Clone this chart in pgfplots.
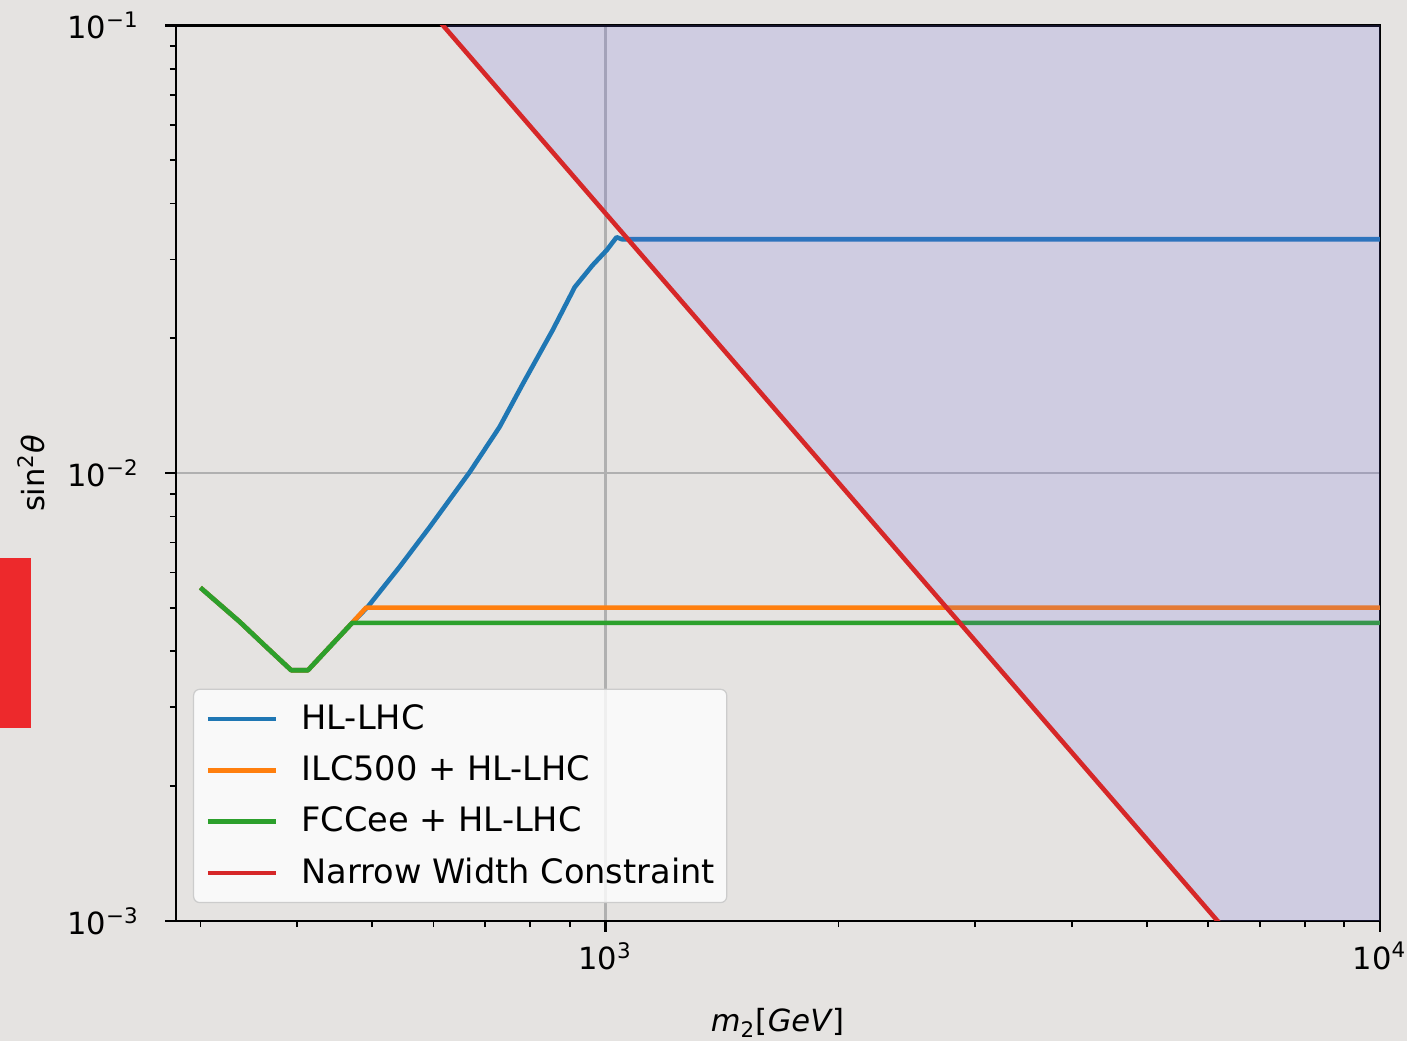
\documentclass[border=0pt]{standalone}
\usepackage{fontspec}
\setmainfont{DejaVu Sans}
\usepackage{pgfplots}
\pgfplotsset{compat=1.18}
\definecolor{bgc}{RGB}{229,227,225}
\definecolor{c0}{RGB}{31,119,180}
\definecolor{c1}{RGB}{255,127,14}
\definecolor{c2}{RGB}{44,160,44}
\definecolor{c3}{RGB}{214,39,40}
\definecolor{fillc}{RGB}{110,100,230}
\definecolor{gridc}{RGB}{176,176,176}
\definecolor{tagred}{RGB}{237,41,44}
\definecolor{legedge}{RGB}{204,204,204}
\begin{document}
\begin{tikzpicture}
\useasboundingbox (-57.6pt,-39.4pt) rectangle (402.9pt,301.4pt);
\fill[bgc] (-57.6pt,-39.4pt) rectangle (402.9pt,301.4pt);
\fill[tagred] (-57.6pt,63.1pt) rectangle (-47.45pt,118.8pt);
\begin{axis}[
  at={(0pt,0pt)}, anchor=south west,
  scale only axis, width=394pt, height=293.1pt,
  xmode=log, ymode=log,
  xmin=279, xmax=10000, ymin=0.001, ymax=0.1,
  xtick={1000,10000},
  xticklabels={10\textsuperscript{3},10\textsuperscript{4}},
  ytick={0.001,0.01,0.1},
  yticklabels={10\textsuperscript{−3},10\textsuperscript{−2},10\textsuperscript{−1}},
  yticklabel style={xshift=-5pt},
  minor xtick={300,400,500,600,700,800,900,2000,3000,4000,5000,6000,7000,8000,9000},
  minor ytick={0.002,0.003,0.004,0.005,0.006,0.007,0.008,0.009,0.02,0.03,0.04,0.05,0.06,0.07,0.08,0.09},
  tick align=outside, tick pos=left,
  major tick length=3.5pt, minor tick length=2pt,
  every major tick/.append style={black, line width=0.8pt},
  every minor tick/.append style={black, line width=0.6pt},
  grid=major, major grid style={gridc, line width=0.8pt},
  axis line style={black, line width=0.8pt},
  xlabel={\textit{m}\textsubscript{2}[\textit{GeV}]},
  ylabel={sin\textsuperscript{2}\textit{θ}},
  xlabel style={at={(axis description cs:0.5,-0.1140)}, anchor=center},
  ylabel style={at={(axis description cs:-0.1200,0.5)}, anchor=center},
  legend cell align=left,
  legend image code/.code={\draw[#1] (0pt,0pt) -- (22.3pt,0pt);},
  legend style={at={(axis description cs:0,0)}, anchor=south west,
    xshift=5.56pt, yshift=5.8pt, fill=white, fill opacity=0.8, text opacity=1,
    draw=legedge, rounded corners=2pt, inner xsep=3.9pt, inner ysep=4.4pt,
    row sep=6.2pt, column sep=7.6pt, font=\fontsize{11}{13}\selectfont,
    nodes={inner sep=0pt, text height=8.6pt, text depth=2.0pt}},
]
\addplot[c0, line width=1.5pt, line join=round] coordinates {
(300,0.00555) (337,0.00466) (365,0.00409) (393,0.00363) (413,0.00363) (471,0.00463)
(493,0.00502) (542,0.006166) (593,0.007574) (668,0.01005) (730,0.01267)
(782,0.0158) (855,0.02087) (913,0.02603) (963,0.02915) (1004,0.03148)
(1034,0.03365) (1050,0.0333) (10000,0.0333)};
\addplot[c1, line width=1.5pt, line join=round] coordinates {
(300,0.00555) (337,0.00466) (365,0.00409) (393,0.00363) (413,0.00363) (471,0.00463)
(491,0.00501) (10000,0.00501)};
\addplot[c2, line width=1.5pt, line join=round] coordinates {
(300,0.00555) (337,0.00466) (365,0.00409) (393,0.00363) (413,0.00363) (471,0.00463)
(10000,0.00463)};
\addplot[draw=none, fill=fillc, fill opacity=0.18, forget plot] coordinates {
(600,0.10575) (10000,0.000381) (10000,1) (600,1)};
\addplot[c3, line width=1.5pt] coordinates {(600,0.10575) (10000,0.000381)};
\legend{HL-LHC, ILC500 + HL-LHC, FCCee + HL-LHC, Narrow Width Constraint}
\end{axis}
\end{tikzpicture}
\end{document}
